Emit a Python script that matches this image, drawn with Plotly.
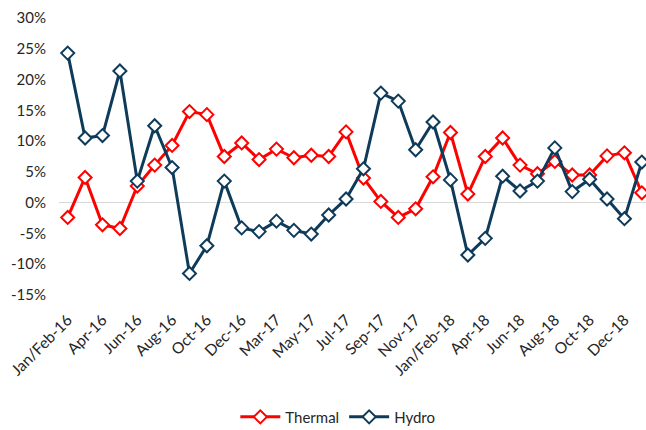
import plotly.graph_objects as go

months = ["Jan/Feb-16", "Mar-16", "Apr-16", "May-16", "Jun-16", "Jul-16", "Aug-16", "Sep-16",
          "Oct-16", "Nov-16", "Dec-16",
          "Jan/Feb-17", "Mar-17", "Apr-17", "May-17", "Jun-17", "Jul-17", "Aug-17", "Sep-17",
          "Oct-17", "Nov-17", "Dec-17",
          "Jan/Feb-18", "Mar-18", "Apr-18", "May-18", "Jun-18", "Jul-18", "Aug-18", "Sep-18",
          "Oct-18", "Nov-18", "Dec-18", "Jan/Feb-19"]

thermal = [-2.4, 4.1, -3.6, -4.2, 2.7, 6.1, 9.3, 14.8, 14.3, 7.5, 9.7, 7.0, 8.7, 7.3, 7.7, 7.5,
           11.5, 4.0, 0.2, -2.4, -1.0, 4.2, 11.4, 1.4, 7.5, 10.5, 6.1, 4.7, 6.7, 4.5, 4.5, 7.6,
           8.1, 1.6]

hydro = [24.3, 10.5, 10.9, 21.4, 3.5, 12.5, 5.7, -11.5, -7.0, 3.5, -4.1, -4.7, -3.0, -4.5, -5.1,
         -2.0, 0.6, 5.5, 17.8, 16.5, 8.6, 13.1, 3.7, -8.5, -5.8, 4.3, 1.9, 3.5, 8.9, 1.8, 3.8,
         0.6, -2.6, 6.6]

tick_labels = months[0:33:2]
y_ticks = [-15, -10, -5, 0, 5, 10, 15, 20, 25, 30]

RED = "#FF0000"
NAVY = "#0F3B5A"

fig = go.Figure()
idx = list(range(len(months)))
fig.add_trace(go.Scatter(
    x=idx, y=thermal, name="Thermal", mode="lines+markers",
    line=dict(color=RED, width=3),
    marker=dict(symbol="diamond", size=10, color="white", line=dict(color=RED, width=2)),
))
fig.add_trace(go.Scatter(
    x=idx, y=hydro, name="Hydro", mode="lines+markers",
    line=dict(color=NAVY, width=3),
    marker=dict(symbol="diamond", size=10, color="white", line=dict(color=NAVY, width=2)),
))

font_family = "Lato, 'Liberation Sans', sans-serif"
fig.update_layout(
    width=646, height=430,
    margin=dict(l=59, r=0, t=18, b=135),
    paper_bgcolor="white", plot_bgcolor="white",
    font=dict(family=font_family, size=15, color="#262626"),
    showlegend=True,
    legend=dict(orientation="h", x=0.475, xanchor="center", yref="container", y=0.03,
                yanchor="middle", font=dict(size=15), itemwidth=40),
    xaxis=dict(
        range=[-0.5, 33.24], tickmode="array",
        tickvals=list(range(0, 33, 2)), ticktext=tick_labels,
        tickangle=-45, showgrid=False, showline=False, zeroline=False, ticks="",
        tickfont=dict(size=15.5), ticklabelstandoff=12,
    ),
    yaxis=dict(
        range=[-15, 30], tickmode="array", tickvals=y_ticks,
        ticktext=[f"{v}%" for v in y_ticks],
        showgrid=False, zeroline=True, zerolinecolor="#D9D9D9", zerolinewidth=1,
        showline=False, ticks="", tickfont=dict(size=15), ticklabelstandoff=12,
    ),
)

fig.write_html("out.html")
